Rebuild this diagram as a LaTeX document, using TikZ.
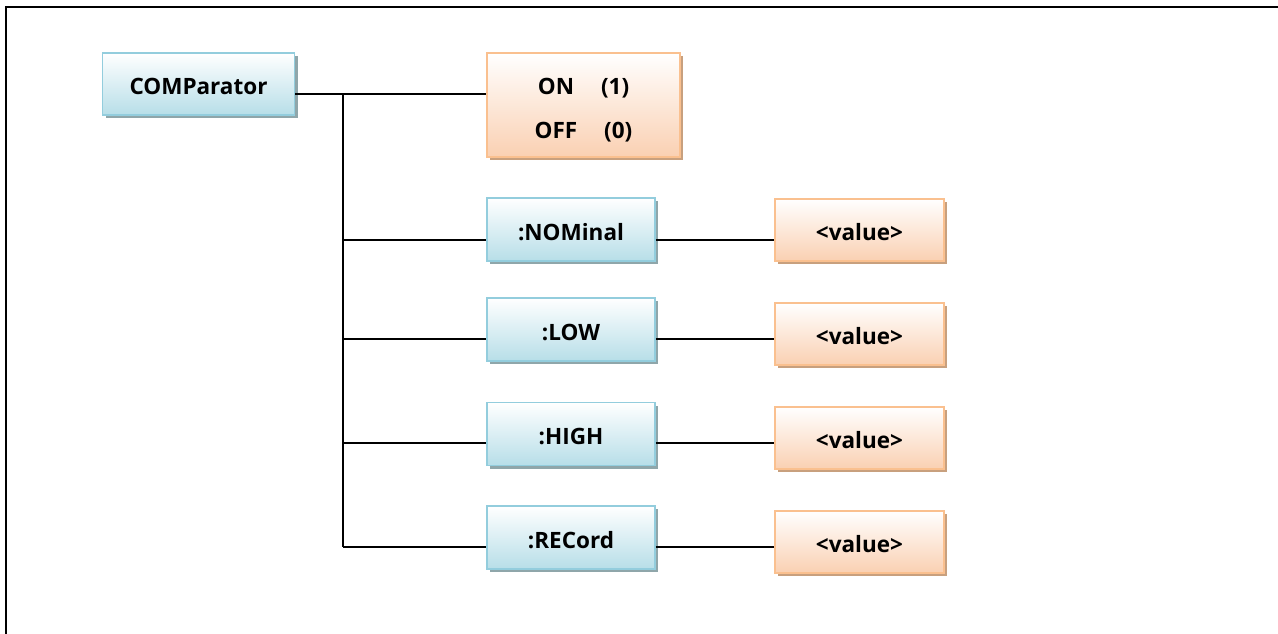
\documentclass[tikz,border=0pt]{standalone}
\usepackage{fontspec}
\setmainfont{Open Sans}
\usetikzlibrary{shadows}
\definecolor{bluebd}{HTML}{93CDDD}
\definecolor{bluebot}{HTML}{B7DEE8}
\definecolor{bluesh}{HTML}{8FA6AA}
\definecolor{orbd}{HTML}{FAC08F}
\definecolor{orbot}{HTML}{FAD0B2}
\definecolor{orsh}{HTML}{C8A07E}
\tikzset{
  boxbase/.style={line width=1.5pt, font=\fontsize{22.5}{28}\selectfont\bfseries,
    inner sep=0pt, align=center},
  bluebox/.style={boxbase, draw=bluebd, top color=white, bottom color=bluebot,
    drop shadow={shadow xshift=3pt, shadow yshift=-3pt, fill=bluesh, opacity=1}},
  orbox/.style={boxbase, draw=orbd, top color=white, bottom color=orbot,
    drop shadow={shadow xshift=3pt, shadow yshift=-3pt, fill=orsh, opacity=1}},
  oneline/.style={text height=21pt, text depth=0pt},
  conn/.style={draw=black, line width=1.4pt},
  frame/.style={draw=black, line width=2.5pt}
}
\begin{document}
\begin{tikzpicture}[x=1pt,y=-1pt]
\useasboundingbox (0,0) rectangle (1278,633);
\draw[frame] (6,640) -- (6,7) -- (1285,7);
% nodes
\node[bluebox, oneline, minimum width=192pt, minimum height=62pt] (comp) at (198.5,84) {COMParator};
\node[orbox, minimum width=193pt, minimum height=104pt] (onoff) at (583.5,105)
  {\rule{0pt}{26pt}ON\hspace{1.2em}(1)\\[16pt]OFF\hspace{1.2em}(0)};
\node[bluebox, oneline, minimum width=168pt, minimum height=63pt] (nom) at (571,229.5) {:NOMinal};
\node[bluebox, oneline, minimum width=168pt, minimum height=63pt] (low) at (571,329.5) {:LOW};
\node[bluebox, oneline, minimum width=168pt, minimum height=63pt] (high) at (571,434) {:HIGH};
\node[bluebox, oneline, minimum width=168pt, minimum height=63pt] (rec) at (571,537.5) {:RECord};
\node[orbox, oneline, minimum width=169pt, minimum height=62pt] (nomv) at (859.5,230) {<value>};
\node[orbox, oneline, minimum width=169pt, minimum height=62pt] (lowv) at (859.5,334) {<value>};
\node[orbox, oneline, minimum width=169pt, minimum height=62pt] (highv) at (859.5,438) {<value>};
\node[orbox, oneline, minimum width=169pt, minimum height=62pt] (recv) at (859.5,542) {<value>};
% coordinates
\coordinate (t0) at (343,94);
\coordinate (t1) at (343,240);
\coordinate (t2) at (343,339);
\coordinate (t3) at (343,443);
\coordinate (t4) at (343,547);
% connectors
\draw[conn] (comp.east |- t0) -- (onoff.west |- t0);
\draw[conn] (t0) -- (t4);
\draw[conn] (t1) -- (nom.west |- t1);
\draw[conn] (t2) -- (low.west |- t2);
\draw[conn] (t3) -- (high.west |- t3);
\draw[conn] (t4) -- (rec.west |- t4);
\draw[conn] (nom.east |- t1) -- (nomv.west |- t1);
\draw[conn] (low.east |- t2) -- (lowv.west |- t2);
\draw[conn] (high.east |- t3) -- (highv.west |- t3);
\draw[conn] (rec.east |- t4) -- (recv.west |- t4);
\end{tikzpicture}
\end{document}
